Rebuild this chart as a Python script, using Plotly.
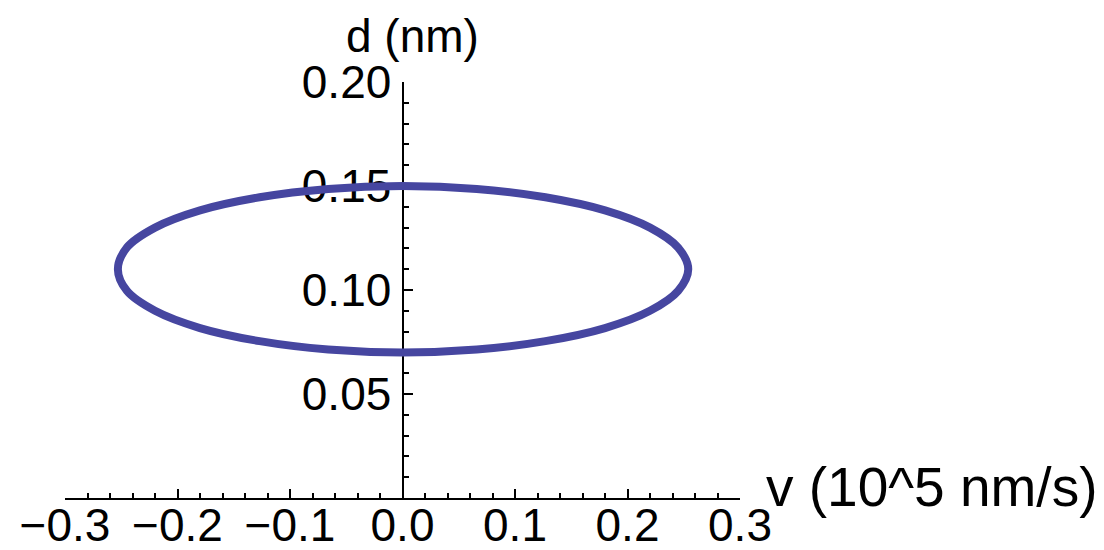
import plotly.graph_objects as go

# Orbit points (v in 10^5 nm/s, d in nm)
v_values = [0.000, 0.066, 0.127, 0.180, 0.220, 0.245, 0.254, 0.245, 0.220, 0.180, 0.127, 0.066,
            0.000, -0.066, -0.127, -0.180, -0.220, -0.245, -0.253, -0.245, -0.220, -0.180, -0.127, -0.066, 0.000]
d_values = [0.150, 0.1486, 0.1446, 0.1383, 0.130, 0.1204, 0.110, 0.0996, 0.090, 0.0817, 0.0754, 0.0714,
            0.070, 0.0714, 0.0754, 0.0817, 0.090, 0.0996, 0.110, 0.1204, 0.130, 0.1383, 0.1446, 0.1486, 0.150]

x_tick_vals = [-0.3, -0.2, -0.1, 0.0, 0.1, 0.2, 0.3]
x_tick_text = ["−0.3", "−0.2", "−0.1", "0.0", "0.1", "0.2", "0.3"]
y_tick_vals = [0.05, 0.10, 0.15, 0.20]
y_tick_text = ["0.05", "0.10", "0.15", "0.20"]

x_label = "v (10^5 nm/s)"
y_label = "d (nm)"

FONT = "Liberation Sans, Arial, Helvetica, sans-serif"
TICK_FS = 46

fig = go.Figure()
fig.add_trace(go.Scatter(
    x=v_values, y=d_values, mode="lines",
    line=dict(color="#4646A0", width=8, shape="spline", smoothing=1.0),
    hoverinfo="skip", showlegend=False,
))

fig.update_layout(
    template="none",
    width=1104, height=550,
    margin=dict(l=57, r=372, t=74, b=60, autoexpand=False),
    paper_bgcolor="white", plot_bgcolor="white",
    font=dict(family=FONT, size=TICK_FS, color="black"),
    xaxis=dict(
        range=[-0.3, 0.3], showgrid=False, zeroline=False, automargin=False,
        showline=True, linecolor="black", linewidth=2,
        tickmode="array", tickvals=x_tick_vals, ticktext=x_tick_text,
        ticks="inside", ticklen=9, tickwidth=1.5, tickcolor="black",
        minor=dict(tick0=0, dtick=0.02, ticks="inside", ticklen=5, tickwidth=1.5, tickcolor="black"),
        tickfont=dict(family=FONT, size=TICK_FS, color="black"),
        ticklabelstandoff=-14,
        layer="below traces", fixedrange=True,
    ),
    yaxis=dict(
        range=[0, 0.2], showgrid=False, zeroline=False, automargin=False,
        anchor="free", position=0.5,
        showline=True, linecolor="black", linewidth=2,
        tickmode="array", tickvals=y_tick_vals, ticktext=y_tick_text,
        ticks="inside", ticklen=9, tickwidth=1.5, tickcolor="black",
        minor=dict(tick0=0, dtick=0.01, ticks="inside", ticklen=5, tickwidth=1.5, tickcolor="black"),
        tickfont=dict(family=FONT, size=TICK_FS, color="black"),
        ticklabelstandoff=1,
        layer="below traces", fixedrange=True,
    ),
    annotations=[
        dict(text=y_label, xref="paper", yref="paper", x=0.5, y=1,
             xanchor="center", yanchor="bottom", xshift=10, yshift=18, showarrow=False,
             font=dict(family=FONT, size=46, color="black")),
        dict(text=x_label, xref="paper", yref="paper", x=1, y=0,
             xanchor="left", yanchor="middle", xshift=24, yshift=11, showarrow=False,
             font=dict(family=FONT, size=55, color="black")),
    ],
)

fig.write_html("out.html")
